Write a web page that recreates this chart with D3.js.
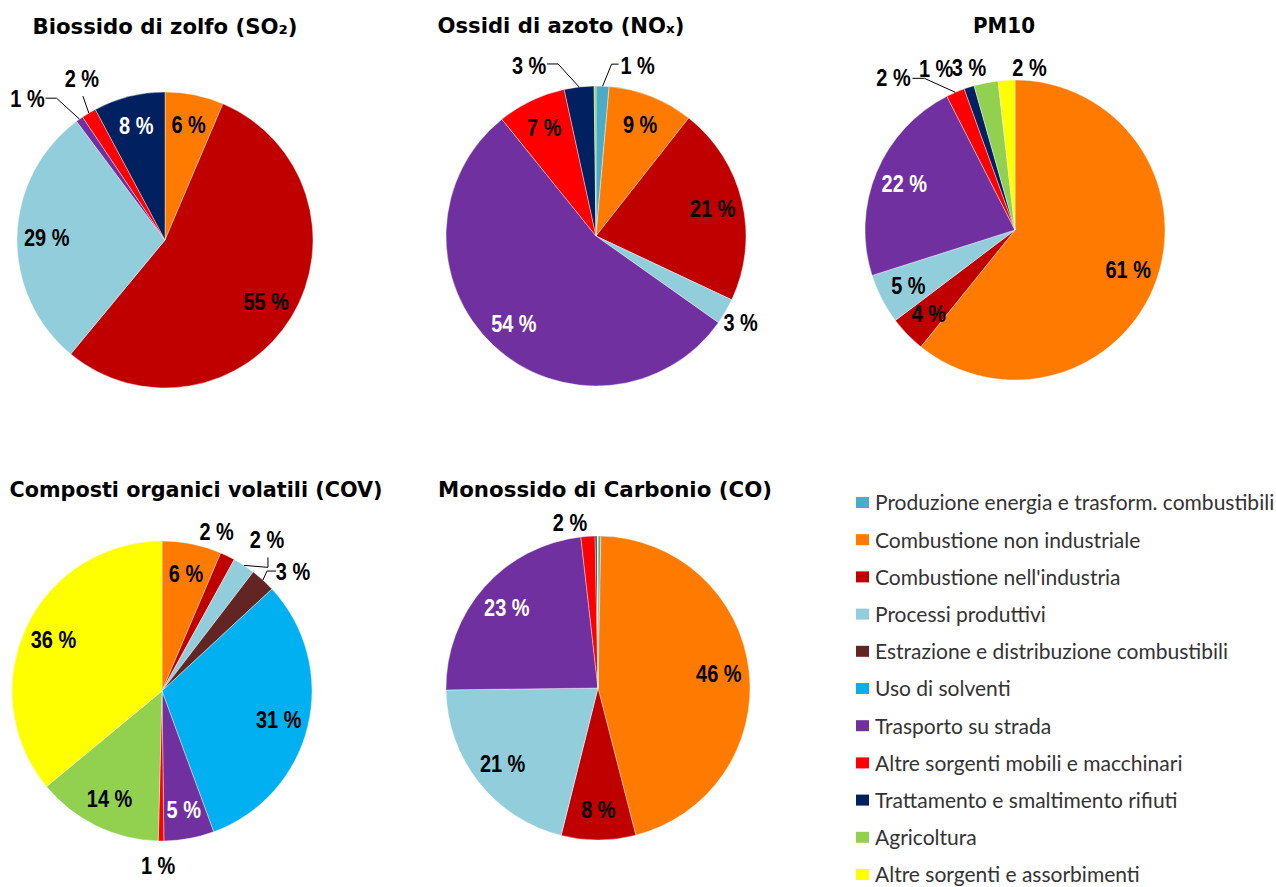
<!DOCTYPE html>
<html>
<head>
<meta charset="utf-8">
<script src="https://cdn.jsdelivr.net/npm/d3@7"></script>
<style>
  body { margin: 0; background: #fff; }
  svg { display: block; }
  .title { font-family: "DejaVu Sans", Verdana, sans-serif; font-weight: bold; font-size: 22px; fill: #000; }
  .lbl { font-family: "Liberation Sans Narrow", "Arial Narrow", "Liberation Sans", sans-serif; font-weight: bold; font-size: 21px; }
  .leg { font-family: Lato, "Open Sans", sans-serif; font-size: 21px; fill: #333; }
</style>
</head>
<body>
<svg width="1276" height="887"></svg>
<script>

// source categories (legend order)
var categories = [
    "Produzione energia e trasform. combustibili",
    "Combustione non industriale",
    "Combustione nell'industria",
    "Processi produttivi",
    "Estrazione e distribuzione combustibili",
    "Uso di solventi",
    "Trasporto su strada",
    "Altre sorgenti mobili e macchinari",
    "Trattamento e smaltimento rifiuti",
    "Agricoltura",
    "Altre sorgenti e assorbimenti"
];

var colors = ["#4bacc6", "#ff7a00", "#c00000", "#92cddc", "#632523", "#00b0f0",
              "#7030a0", "#ff0000", "#002060", "#92d050", "#ffff00"];
var labelColors = ["#000", "#000", "#000", "#000", "#fff", "#000",
                   "#fff", "#000", "#fff", "#000", "#000"];

// share of emissions (%) per pollutant, same order as categories
var so2  = [0,   6.4, 54.6, 28.8, 0,   0,    0.8,  1.6, 7.8, 0,    0];
var nox  = [1.4, 9.2, 21.4, 2.8,  0,   0,    54.4, 7.4, 3.2, 0.2,  0];
var pm10 = [0,  60.8,  3.9, 5.4,  0,   0,    22.4, 2.0, 1.1, 2.6,  1.8];
var cov  = [0,   6.4,  1.6, 2.4,  2.7, 31.3, 5.4,  0.6, 0,   13.6, 36.0];
var co   = [0.3, 45.7, 7.9, 20.9, 0,   0,    23.4, 1.5, 0.2, 0,    0.1];

var titles = ["Biossido di zolfo (SO\u2082)", "Ossidi di azoto (NO\u2093)", "PM10",
              "Composti organici volatili (COV)", "Monossido di Carbonio (CO)"];

// layout of the five pies
var charts = [
    {data: so2,  cx: 165,  cy: 240, r: 148, tx: 165, ty: 34,  tw: 265},
    {data: nox,  cx: 596,  cy: 236, r: 150, tx: 561, ty: 33,  tw: 247},
    {data: pm10, cx: 1015, cy: 230, r: 150, tx: 1004, ty: 33, tw: 62},
    {data: cov,  cx: 162,  cy: 691, r: 150, tx: 196, ty: 497, tw: 373},
    {data: co,   cx: 598,  cy: 688, r: 152, tx: 605, ty: 497, tw: 334}
];

// labels placed outside the pie: offset from the slice edge point,
// optional leader (attach point relative to label, elbow relative to edge point)
var outside = [
    {6: {dx: -52, dy: -21, at: [18, 0], el: [-23, -21]},
     7: {dx: -7, dy: -35, at: [1, 18]}},
    {0: {dx: 35, dy: -21, at: [-19, -1], el: [9, -22]},
     8: {dx: -50, dy: -22, at: [18, -1], el: [-21, -23]},
     3: {dx: 15, dy: 11}},
    {7: {dx: -62, dy: -15, at: [19, 1], el: [-31, -14]},
     8: {dx: -33, dy: -19},
     9: {dx: -17, dy: -15},
     10: {dx: 23, dy: -13}},
    {2: {dx: -11, dy: -25},
     3: {dx: 23, dy: -26, at: [1, 18], el: [24, 2]},
     4: {dx: 30, dy: -9, at: [-17, 0], el: [4, -9]},
     7: {dx: -3, dy: 24}},
    {7: {dx: -18, dy: -14}}
];

var svg = d3.select("svg");

var pie = d3.pie().sort(null).value(function(d) { return d; });

charts.forEach(function(c, k) {
    var g = svg.append("g").attr("transform", "translate(" + c.cx + "," + c.cy + ")");
    var arc = d3.arc().innerRadius(0).outerRadius(c.r);
    var arcs = pie(c.data).map(function(a, i) { a.i = i; return a; });

    g.selectAll("path.slice")
        .data(arcs.filter(function(a) { return a.value > 0; }))
        .enter().append("path")
        .attr("class", "slice")
        .attr("d", arc)
        .attr("fill", function(a) { return colors[a.i]; })
        .attr("stroke", "#fff")
        .attr("stroke-width", 0.4);

    var labelled = arcs.filter(function(a) { return Math.round(a.value) >= 1; });

    labelled.forEach(function(a) {
        var mid = (a.startAngle + a.endAngle) / 2;
        var sx = Math.sin(mid), sy = -Math.cos(mid);
        var o = outside[k][a.i];
        var x, y, fill = labelColors[a.i];
        if (o) {
            var px = sx * c.r, py = sy * c.r;
            x = px + o.dx; y = py + o.dy; fill = "#000";
            if (o.at) {
                var pts = [[x + o.at[0], y + o.at[1]]];
                if (o.el) pts.push([px + o.el[0], py + o.el[1]]);
                pts.push([px, py]);
                g.append("path")
                    .attr("d", d3.line()(pts))
                    .attr("fill", "none")
                    .attr("stroke", "#000")
                    .attr("stroke-width", 1);
            }
        } else {
            x = sx * c.r * 0.8; y = sy * c.r * 0.8;
        }
        // narrow, tall look of the original labels
        g.append("text")
            .attr("class", "lbl")
            .attr("transform", "translate(" + x + "," + y + ") scale(0.95,1.13)")
            .attr("dy", "0.36em")
            .attr("text-anchor", "middle")
            .attr("fill", fill)
            .text(Math.round(a.value) + "\u00a0%");
    });

    svg.append("text")
        .attr("class", "title")
        .attr("x", c.tx).attr("y", c.ty)
        .attr("text-anchor", "middle")
        .attr("textLength", c.tw)
        .attr("lengthAdjust", "spacingAndGlyphs")
        .text(titles[k]);
});

// legend
var legY = d3.scaleLinear().domain([0, categories.length - 1]).range([503, 875]);
var leg = svg.append("g");
categories.forEach(function(name, i) {
    leg.append("rect")
        .attr("x", 856).attr("y", legY(i) - 6)
        .attr("width", 13).attr("height", 11)
        .attr("fill", colors[i]);
    leg.append("text")
        .attr("class", "leg")
        .attr("x", 875).attr("y", legY(i))
        .attr("dy", "0.35em")
        .text(name);
});

</script>
</body>
</html>
